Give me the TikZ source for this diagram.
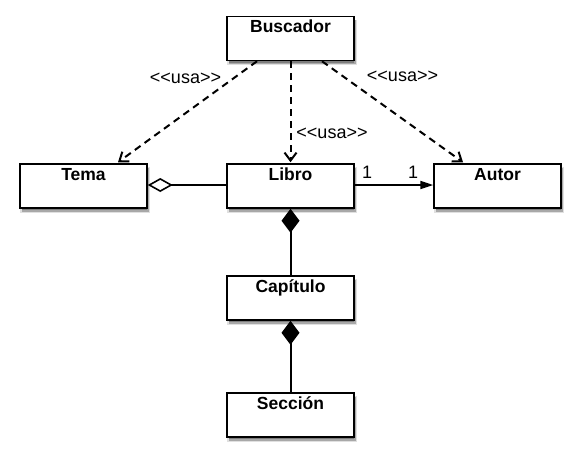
\documentclass[tikz,border=0pt]{standalone}
\usepackage{fontspec}
\setmainfont{Liberation Sans}
\usetikzlibrary{arrows.meta,shadows}
\begin{document}
\begin{tikzpicture}[x=1pt,y=-1pt,
  cls/.style={draw=black, line width=1.5pt, fill=white, minimum width=127pt, minimum height=44pt, inner sep=0pt,
    general shadow={fill=black, opacity=0.12, shadow xshift=1.5pt, shadow yshift=-4pt, shadow scale=1.03},
    general shadow={fill=black, opacity=0.25, shadow xshift=1.5pt, shadow yshift=-3.5pt},
    general shadow={fill=black, opacity=0.25, shadow xshift=1pt, shadow yshift=-2.5pt, shadow scale=0.99}},
  cname/.style={anchor=base, font=\fontsize{17.5}{19}\selectfont\bfseries, inner sep=0pt},
  lbl/.style={font=\fontsize{18}{20}\selectfont, inner sep=0pt},
  conn/.style={line width=2pt},
  uses/.style={conn, dash pattern=on 7pt off 5pt, -{Straight Barb[length=8pt,width=12pt,line width=2pt]}},
]
\useasboundingbox (0,0) rectangle (580,461);

% class boxes
\node[cls] (bus) at (290.5,38.5) {};
\node[cls] (tema) at (83.5,186) {};
\node[cls] (libro) at (290.5,186) {};
\node[cls] (autor) at (497.5,186) {};
\node[cls] (cap) at (290.5,298) {};
\node[cls] (sec) at (290.5,415) {};

\node[cname] (tbus) at ([yshift=-16.5pt]bus.north) {Buscador};
\node[cname] (ttema) at ([yshift=-17pt]tema.north) {Tema};
\node[cname] (tlibro) at ([yshift=-17pt]libro.north) {Libro};
\node[cname] (tautor) at ([yshift=-17pt]autor.north) {Autor};
\node[cname] (tcap) at ([yshift=-17pt]cap.north) {Capítulo};
\node[cname] (tsec) at ([yshift=-17pt]sec.north) {Sección};

% dependencies
\draw[uses] ([xshift=-33.5pt]bus.south) -- ([xshift=34.5pt,yshift=1pt]tema.north);
\draw[uses] (bus.south) -- ([yshift=1pt]libro.north);
\draw[uses] ([xshift=31.5pt]bus.south) -- ([xshift=-34.5pt,yshift=1pt]autor.north);

\node[lbl] (u1) at (185.5,78.5) {<{}<usa>{}>};
\node[lbl] (u2) at (332,133) {<{}<usa>{}>};
\node[lbl] (u3) at (402.5,76) {<{}<usa>{}>};

% aggregation
\draw[conn, {Diamond[open,length=25pt,width=14pt,line width=1.6pt]}-] ([yshift=1pt]tema.east) -- ([yshift=1pt]libro.west);

% association
\draw[conn, -{Triangle[length=13pt,width=8pt]}] ([yshift=1pt]libro.east) -- ([yshift=1pt]autor.west);
\node[lbl] (m1) at (367,172.5) {1};
\node[lbl] (m2) at (413,172.5) {1};

% compositions
\draw[conn, {Diamond[length=24pt,width=18pt]}-] (libro.south) -- (cap.north);
\draw[conn, {Diamond[length=24pt,width=18pt]}-] (cap.south) -- (sec.north);
\end{tikzpicture}
\end{document}
